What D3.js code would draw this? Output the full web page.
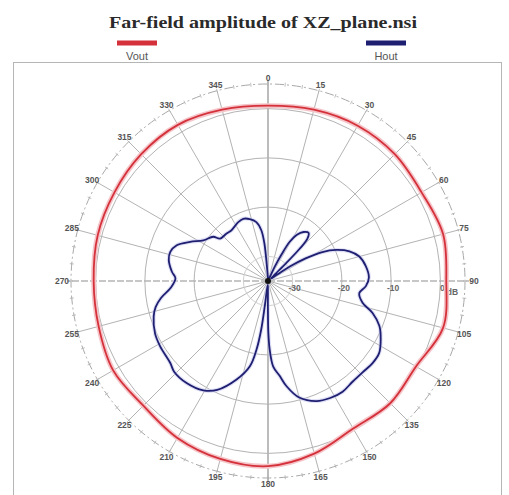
<!DOCTYPE html>
<html><head><meta charset="utf-8">
<script src="https://cdn.jsdelivr.net/npm/d3@7"></script>
<style>html,body{margin:0;padding:0;background:#fff;}</style>
</head><body>
<svg id="c" width="509" height="495"></svg>
<script>
const title = "Far-field amplitude of XZ_plane.nsi";
const seriesNames = ["Vout", "Hout"];
const seriesColors = ["#d4313b", "#1f1f72"];
const angleTicks = d3.range(0, 360, 15);
const ringTicks = [-30, -20, -10, 0];
const ringLabels = ["-30", "-20", "-10", "0"];
const unitLabel = "dB";

// Vout (red)
const vAngles = [0,15,30,45,60,75,90,105,120,135,150,165,180,195,210,225,240,255,270,285,300,315,330,345];
const vValues = [0.6,1.0,1.4,1.4,1.0,1.8,1.2,1.8,-0.3,0.1,-0.4,1.3,2.6,2.4,1.8,0.8,1.3,0.6,0.4,0.8,1.0,1.4,1.6,1.0];

// Hout (blue)
const hAngles = [0,10,22,25,27,29,32,36,40,43,44.5,45.5,47,52,55,56.5,59,62,65.5,70,75,81.5,88,93,97.5,103,107,112,117.5,123,128,134,140,146,152,158,165,170,173,176.5,178.6,179.6,180.3,181.5,185,187.3,188,189.5,192,197.7,205,210.6,218.6,226,230,238.8,245,252.8,257,261,266,271.7,275.5,282,286.6,291.4,296.7,302.2,308.9,311.5,318.9,324.3,333.2,338.3,343.6,348.8,352.5,354.5,355.5,357];
const hValues = [-34.4,-34.6,-34.4,-32.0,-28.9,-25.9,-23.9,-22.7,-22.2,-23.3,-25.9,-29.9,-33.4,-34.2,-33.0,-29.7,-26.1,-22.5,-19.8,-17.4,-15.8,-14.9,-14.5,-15.1,-16.3,-15.3,-12.8,-10.6,-9.2,-8.1,-8.0,-8.3,-8.3,-7.9,-8.1,-8.7,-10.5,-13.3,-15.6,-17.6,-21.1,-24.5,-30.0,-33.8,-34.2,-30.0,-24.9,-20.9,-17.3,-14.0,-10.6,-9.2,-8.5,-8.5,-9.1,-9.4,-9.7,-10.7,-11.6,-13.0,-15.2,-16.2,-15.4,-14.4,-14.3,-15.1,-17.3,-19.5,-20.7,-22.0,-22.2,-22.3,-21.6,-21.4,-21.9,-22.8,-24.6,-27.3,-31.0,-33.8];

const svg = d3.select("#c");
const cx = 268, cy = 281;
const R = 197;
const r = d3.scaleLinear().domain([-35, 5]).range([0, R]).clamp(true);
const toRad = d => d * Math.PI / 180;

// title
svg.append("text").attr("x", 263).attr("y", 28).attr("text-anchor", "middle")
  .attr("font-family", "Liberation Serif, DejaVu Serif, serif").attr("font-weight", "bold")
  .attr("font-size", 17).attr("fill", "#2a2a2a")
  .attr("textLength", 308).attr("lengthAdjust", "spacingAndGlyphs").text(title);

// legend
const legX = [137, 386];
seriesNames.forEach((n, i) => {
  svg.append("rect").attr("x", legX[i] - 20).attr("y", 40.5).attr("width", 40).attr("height", 5)
    .attr("fill", seriesColors[i]);
  svg.append("text").attr("x", legX[i]).attr("y", 60).attr("text-anchor", "middle")
    .attr("font-family", "Liberation Sans, Arial, sans-serif").attr("font-size", 11)
    .attr("fill", "#555").text(n);
});

// frame
svg.append("rect").attr("x", 13.5).attr("y", 62.5).attr("width", 488).attr("height", 440)
  .attr("fill", "none").attr("stroke", "#b5b5b5").attr("stroke-width", 1);

const g = svg.append("g").attr("transform", `translate(${cx},${cy})`);

// spokes
angleTicks.forEach(a => {
  const major = a % 90 === 0;
  g.append("line").attr("x1", 0).attr("y1", 0)
    .attr("x2", Math.sin(toRad(a)) * (major ? R + 4 : R))
    .attr("y2", -Math.cos(toRad(a)) * (major ? R + 4 : R))
    .attr("stroke", major ? "#8f8f8f" : "#b3b3b3")
    .attr("stroke-width", major ? 1.2 : 1)
    .attr("stroke-dasharray", (a === 90 || a === 270) ? "7,2" : null);
});

// rings
ringTicks.forEach(v => {
  g.append("circle").attr("r", r(v)).attr("fill", "none")
    .attr("stroke", v === -30 ? "#cfcfcf" : "#b3b3b3").attr("stroke-width", 1);
});
// outer dashed circle
g.append("circle").attr("r", R).attr("fill", "none").attr("stroke", "#a8a8a8")
  .attr("stroke-width", 1).attr("stroke-dasharray", "9,3,2,3");
// small ticks on outer circle
d3.range(0, 360, 5).forEach(a => {
  g.append("line")
    .attr("x1", Math.sin(toRad(a)) * (R - 2)).attr("y1", -Math.cos(toRad(a)) * (R - 2))
    .attr("x2", Math.sin(toRad(a)) * (R + 2)).attr("y2", -Math.cos(toRad(a)) * (R + 2))
    .attr("stroke", "#b0b0b0").attr("stroke-width", 0.8);
});

// angle labels
angleTicks.forEach(a => {
  const rr = (a === 90 || a === 270) ? 206 : 203;
  g.append("text").attr("x", Math.sin(toRad(a)) * rr).attr("y", -Math.cos(toRad(a)) * rr)
    .attr("text-anchor", "middle").attr("dominant-baseline", "central")
    .attr("font-family", "Liberation Sans, Arial, sans-serif").attr("font-size", 8.5)
    .attr("font-weight", "bold").attr("fill", "#555").text(a);
});

// ring labels
ringTicks.forEach((v, i) => {
  g.append("text").attr("x", r(v) + 2).attr("y", 10).attr("text-anchor", "middle")
    .attr("font-family", "Liberation Sans, Arial, sans-serif").attr("font-size", 8.5)
    .attr("font-weight", "bold").attr("fill", "#666").text(ringLabels[i]);
});
g.append("text").attr("x", r(0) + 12).attr("y", 14).attr("text-anchor", "middle")
  .attr("font-family", "Liberation Sans, Arial, sans-serif").attr("font-size", 8.5)
  .attr("font-weight", "bold").attr("fill", "#666").text(unitLabel);

// series
const line = d3.lineRadial().angle(d => toRad(d[0])).radius(d => r(d[1]))
  .curve(d3.curveCatmullRomClosed.alpha(0.5));
const vData = vAngles.map((a, i) => [a, vValues[i]]);
const hData = hAngles.map((a, i) => [a, hValues[i]]);

g.append("path").attr("d", line(vData)).attr("fill", "none")
  .attr("stroke", "#f5c4c8").attr("stroke-width", 5);
g.append("path").attr("d", line(vData)).attr("fill", "none")
  .attr("stroke", seriesColors[0]).attr("stroke-width", 1.8);

g.append("path").attr("d", line(hData)).attr("fill", "none")
  .attr("stroke", "#c9c9ee").attr("stroke-width", 4).attr("stroke-opacity", 0.6);
g.append("path").attr("d", line(hData)).attr("fill", "none")
  .attr("stroke", seriesColors[1]).attr("stroke-width", 1.8);

g.append("circle").attr("r", 3).attr("fill", "#111");
</script>
</body></html>
